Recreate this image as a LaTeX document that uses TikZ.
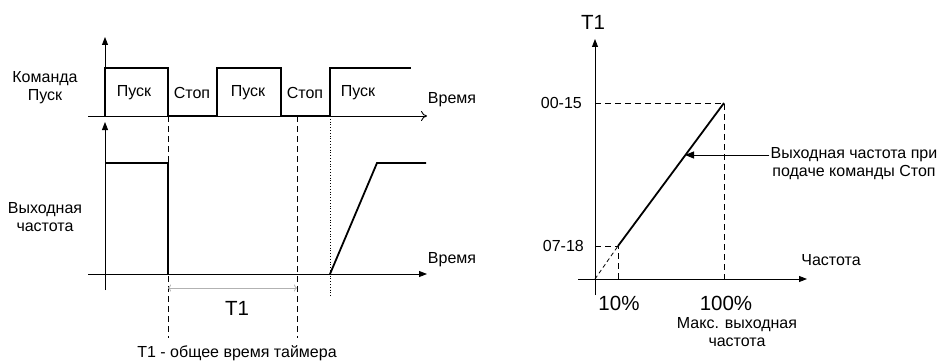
\documentclass[tikz,border=0pt]{standalone}
\usepackage{fontspec}
\setmainfont{Liberation Sans}
\usetikzlibrary{arrows.meta,positioning}

\begin{document}
\begin{tikzpicture}[x=1pt, y=-1pt,
  axis/.style={line width=0.9pt, -{Triangle[length=8pt,width=6pt]}},
  sig/.style={line width=1.8pt},
  guide/.style={line width=0.9pt, dash pattern=on 6pt off 4pt},
  lbl/.style={font=\fontsize{16}{18}\selectfont, align=center, inner sep=1pt},
  big/.style={font=\fontsize{20.5}{22}\selectfont, inner sep=1pt}
]
\useasboundingbox (0,0) rectangle (946,361);

% left top: run command
\draw[line width=0.9pt, -{To[length=6pt,width=10pt]}] (88,116) -- (427,116);
\draw[axis] (105,116) -- (105,37);
\draw[sig] (105,116) -- (105,68) -- (168,68) -- (168,116) -- (217,116) -- (217,68)
  -- (281,68) -- (281,116) -- (330,116) -- (330,68) -- (411,68);
\node[lbl] (cmd) at (45,88) {Команда\\Пуск};
\node[lbl] (run1) at (134,93) {Пуск};
\node[lbl] (stop1) at (192,93) {Стоп};
\node[lbl] (run2) at (248,93) {Пуск};
\node[lbl] (stop2) at (305,93) {Стоп};
\node[lbl] (run3) at (358,93) {Пуск};
\node[lbl] (time1) at (452,100) {Время};

% left bottom: output frequency
\draw[axis] (88,274) -- (427,274);
\draw[axis] (105,290) -- (105,122);
\draw[sig] (105,163) -- (168,163) -- (168,274);
\draw[sig] (330,274) -- (377,163) -- (426,163);
\node[lbl] (fout) at (45,217) {Выходная\\частота};
\node[lbl] (time2) at (452,260) {Время};

% timer lines
\coordinate (tA) at (168,116);
\coordinate (tB) at (297,116);
\coordinate (tC) at (330,116);
\draw[guide] (tA) -- (168,338);
\draw[guide] (tB) -- (297,338);
\draw[line width=0.8pt, dotted] (tC) -- (330,297);
\coordinate (dA) at (168,288);
\coordinate (dB) at (297,288);
\draw[gray!60, line width=0.8pt, {To[length=3pt,width=7pt]}-{To[length=3pt,width=7pt]}] (dA) -- (dB);
\node[big] (t1) at (237,308) {T1};
\node[lbl] (t1note) at (237,353) {T1 - общее время таймера};

% right: T1 versus frequency
\draw[axis] (578,279) -- (807,279);
\draw[axis] (595,295) -- (595,39);
\node[big] (t1axis) at (593,22) {T1};
\coordinate (lo) at (618,246);
\coordinate (hi) at (724,103);
\draw[guide] (595,103) -- (hi) -- (724,279);
\draw[guide] (595,246) -- (lo) -- (618,279);
\draw[line width=0.8pt, dash pattern=on 4pt off 3pt] (595,279) -- (lo);
\draw[sig] (lo) -- (hi);
\node[lbl, anchor=east] (v15) at (583,103) {00-15};
\node[lbl, anchor=east] (v18) at (585,246) {07-18};
\node[lbl] (freq) at (831,260) {Частота};
\node[big] (p10) at (619,303) {10\%};
\node[big] (p100) at (726,303) {100\%};
\node[lbl] (fmax) at (737,332) {Макс. выходная\\частота};
\node[lbl] (stopnote) at (854,164) {Выходная частота при\\подаче команды Стоп};
\coordinate (onramp) at (685,155);
\draw[line width=0.9pt, -{Triangle[length=9pt,width=7pt]}] (stopnote.west |- onramp) -- (onramp);

\end{tikzpicture}
\end{document}
